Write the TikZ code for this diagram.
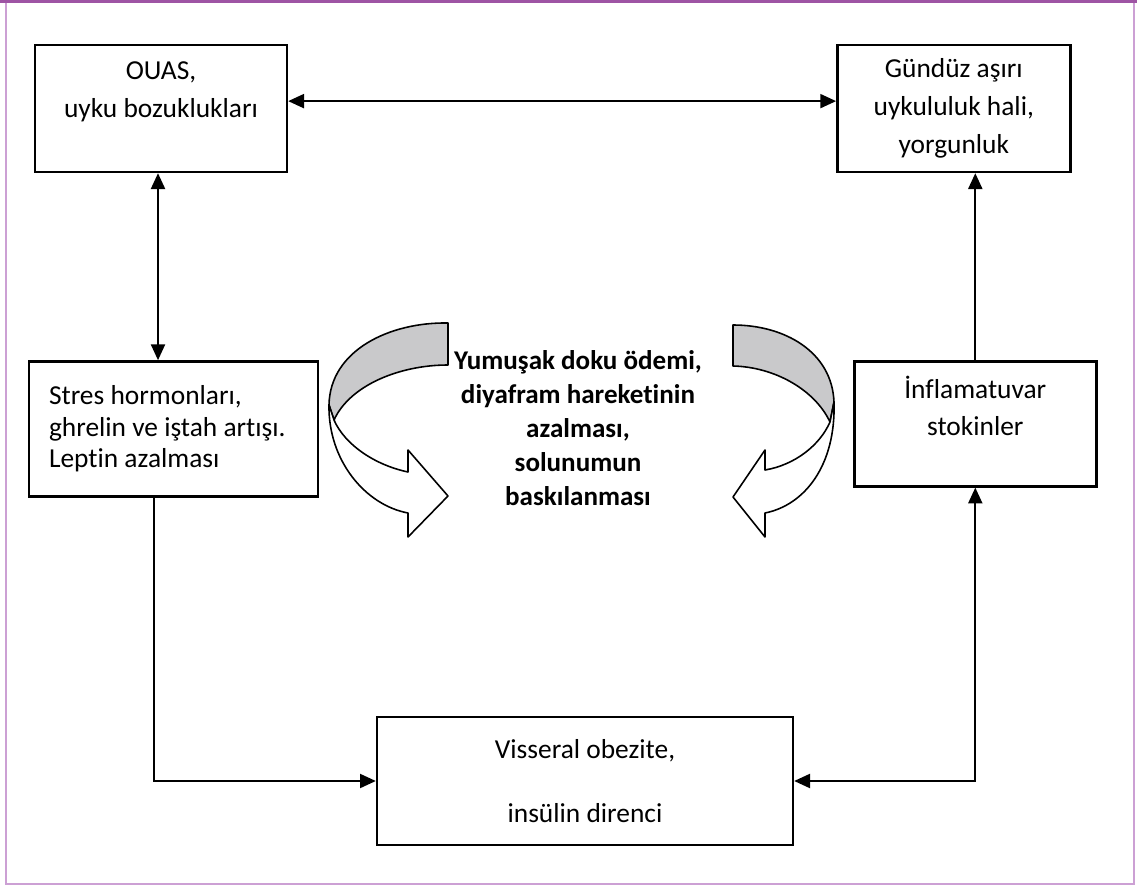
\documentclass[tikz,border=0pt]{standalone}
\usepackage{fontspec}
\setmainfont{Carlito}[Ligatures={NoCommon,NoContextual}, Contextuals=NoAlternate]
\usepackage{tikz}
\usetikzlibrary{calc, positioning, arrows.meta}
\usepackage{xcolor}

\definecolor{framepurple}{RGB}{158,84,164}
\definecolor{edgepurple}{RGB}{204,160,212}
\definecolor{ribbongray}{RGB}{201,201,203}

\begin{document}
\begin{tikzpicture}[
        x=0.02cm, y=-0.02cm,
        box/.style={
            rectangle, draw=black, line width=1.4pt, fill=white,
            align=center, inner sep=2pt,
            font=\fontsize{15.6}{21.8}\selectfont
        },
        line/.style={draw, line width=1.1pt, >={Triangle[length=9pt, width=8pt]}},
        ribbon/.style={draw=black, line width=0.9pt, line join=round},
        lbl/.style={font=\bfseries\fontsize{15.4}{19.4}\selectfont, align=center, inner sep=2pt}
    ]

    \useasboundingbox (0,0) rectangle (1137,885);

    % page frame
    \draw [edgepurple, line width=0.8pt] (6,0) -- (6,884) -- (1134,884) -- (1134,0);
    \fill [framepurple] (0,0) rectangle (1137,3.5);

    \node [box, minimum width=5.04cm, minimum height=2.54cm] (ouas) at (161,108.5) {
        OUAS,\\
        uyku bozuklukları\\
        \mbox{}
    };

    \node [box, minimum width=4.66cm, minimum height=2.54cm, right=10.96cm of ouas] (gunduz) {
        Gündüz aşırı\\
        uykululuk hali,\\
        yorgunluk
    };

    \node [box, text width=4.98cm, align=flush left, inner xsep=0.4cm, minimum height=2.7cm,
           font=\fontsize{15.6}{18}\selectfont,
           below=3.74cm of ouas.south west, anchor=north west, xshift=-0.12cm] (stres) {
        Stres hormonları,\\
        ghrelin ve iştah artışı.\\
        Leptin azalması
    };

    \node [box, minimum width=4.84cm, minimum height=2.5cm,
           font=\fontsize{15.6}{21}\selectfont,
           right=10.68cm of stres.north east, anchor=north west] (inflam) {
        İnflamatuvar\\
        stokinler\\
        \mbox{}
    };

    \node [box, minimum width=8.32cm, minimum height=2.56cm,
           font=\fontsize{15.6}{18.3}\selectfont] (visseral) at (585,781) {
        Visseral obezite,\\
        \mbox{}\\
        insülin direnci
    };

    % curved ribbon arrows
    \filldraw [ribbon, fill=ribbongray] (448,323) .. controls (390,322) and (330,350) .. (329,405)
        -- (334,420) .. controls (350,385) and (400,365) .. (448,365) -- cycle;
    \filldraw [ribbon, fill=white] (334,420) .. controls (345,445) and (375,465) .. (408,472)
        -- (408,450) -- (448,496) -- (408,537) -- (408,513)
        .. controls (365,505) and (328,460) .. (329,405) -- cycle;

    \filldraw [ribbon, fill=ribbongray] (733,325) .. controls (785,325) and (832,352) .. (834,402)
        -- (830,422) .. controls (815,390) and (775,367) .. (733,366) -- cycle;
    \filldraw [ribbon, fill=white] (830,422) .. controls (820,445) and (795,465) .. (765,470)
        -- (765,450) -- (733,497) -- (765,537) -- (765,513)
        .. controls (805,505) and (836,465) .. (834,402) -- cycle;

    \node [lbl] (mechanism) at (578,428) {
        Yumuşak doku ödemi,\\
        diyafram hareketinin\\
        azalması,\\
        solunumun\\
        baskılanması
    };

    \draw [line, <->] ([yshift=4.2pt]ouas.east) -- ([yshift=4.2pt]gunduz.west);
    \draw [line, <->] ([xshift=-1.7pt]ouas.south) -- ([xshift=-1.7pt]ouas.south |- stres.north);
    \draw [line, ->] (inflam.north) -- (inflam.north |- gunduz.south);
    \draw [line, ->] ([xshift=-11pt]stres.south) |- (visseral.west);
    \draw [line, <->] (inflam.south) |- (visseral.east);

\end{tikzpicture}
\end{document}
